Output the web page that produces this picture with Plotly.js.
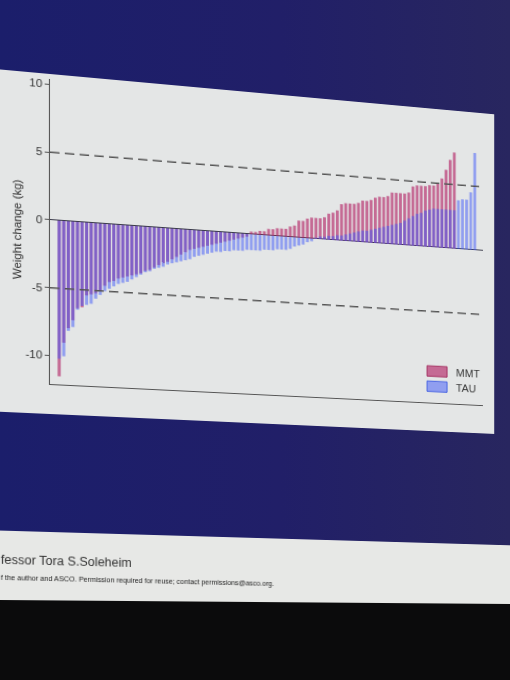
<!DOCTYPE html>
<html>
<head>
<meta charset="utf-8">
<script src="https://cdn.plot.ly/plotly-3.0.1.min.js"></script>
<style>
  html, body { margin:0; padding:0; width:510px; height:680px; overflow:hidden;
    background: linear-gradient(90deg, #1b1e6b 0%, #211f68 55%, #28265f 100%); }
  #slide { position:absolute; left:0; top:0; width:510px; height:680px; transform-origin:0 0; }
  #panel { position:absolute; left:-40px; top:74px; width:535px; height:340px; background:#e4e6e6; }
  #footer { position:absolute; left:-40px; top:532px; width:640px; height:120px; background:#e7e8e6; }
  #chart { position:absolute; left:0; top:0; width:510px; height:680px; }
  .ft { position:absolute; white-space:nowrap; font-family:"Liberation Sans", Arial, sans-serif; color:#333; }
  #presenter { left:4px; top:554px; font-size:12px; line-height:14px; }
  #copy { left:4px; top:575px; font-size:6.9px; line-height:8px; color:#222; }
  #floor { position:absolute; left:0; top:600px; width:510px; height:80px; background:#0b0b0c;
    clip-path: polygon(0 0, 100% 4px, 100% 100%, 0 100%); }
</style>
</head>
<body>
<div id="slide">
  <div id="panel"></div>
  <div id="footer"></div>
  <div id="chart"></div>
  <div class="ft" id="presenter">fessor Tora S.Soleheim</div>
  <div class="ft" id="copy">f the author and ASCO. Permission required for reuse; contact permissions@asco.org.</div>
</div>
<div id="floor"></div>
<script>
// ---- data (weight change in kg, each arm sorted ascending) ----
const seriesNames = ["MMT", "TAU"];
const mmtWeightChange = [-11.5,-9.0,-7.9,-7.3,-6.4,-6.3,-5.4,-5.3,-5.2,-5.0,
  -4.6,-4.3,-4.2,-4.0,-3.9,-3.8,-3.7,-3.6,-3.5,-3.3,
  -3.2,-3.0,-2.8,-2.6,-2.5,-2.3,-2.1,-1.9,-1.7,-1.5,
  -1.4,-1.3,-1.2,-1.1,-1.0,-0.9,-0.8,-0.7,-0.6,-0.5,
  -0.4,-0.3,-0.2,0.2,0.2,0.3,0.3,0.5,0.5,0.6,
  0.6,0.6,0.8,0.9,1.3,1.3,1.5,1.6,1.6,1.6,
  1.7,2.0,2.1,2.3,2.8,2.9,2.9,2.9,3.0,3.2,
  3.2,3.3,3.5,3.6,3.6,3.7,4.0,4.0,4.0,4.0,
  4.1,4.6,4.7,4.7,4.7,4.8,4.8,5.0,5.4,6.1,
  6.9,7.5];
const tauWeightChange = [-10.2,-10.0,-8.1,-7.8,-6.5,-6.2,-6.1,-6.0,-5.6,-5.3,
  -5.0,-4.8,-4.6,-4.4,-4.3,-4.2,-4.0,-3.8,-3.6,-3.4,
  -3.3,-3.1,-3.0,-2.9,-2.7,-2.6,-2.5,-2.4,-2.3,-2.2,
  -2.0,-1.9,-1.8,-1.7,-1.6,-1.5,-1.5,-1.4,-1.4,-1.3,
  -1.3,-1.3,-1.2,-1.2,-1.2,-1.2,-1.1,-1.1,-1.1,-1.0,
  -1.0,-1.0,-0.9,-0.7,-0.6,-0.5,-0.3,-0.2,0.1,0.2,
  0.2,0.3,0.3,0.4,0.4,0.5,0.6,0.7,0.8,0.9,
  0.9,1.0,1.1,1.2,1.3,1.4,1.5,1.6,1.7,1.9,
  2.1,2.3,2.5,2.6,2.8,2.9,3.0,3.0,3.0,3.0,
  3.0,3.0,3.8,3.9,3.9,4.5,7.6];
const yTickVals = [-10, -5, 0, 5, 10];
const yTickText = ["-10", "-5", "0", "5", "10"];
const refLevels = [5, -5];
const yTitle = "Weight change (kg)";

// patient rank within each arm
const mmtRank = mmtWeightChange.map((_, i) => i + 1);
const tauRank = tauWeightChange.map((_, i) => i + 1);

const traces = [
  { type:'bar', name:seriesNames[0], x:mmtRank, y:mmtWeightChange, legend:'legend',
    marker:{ color:'rgba(180,40,105,0.65)', line:{ color:'rgba(150,20,80,0.8)', width:0 } } },
  { type:'bar', name:seriesNames[1], x:tauRank, y:tauWeightChange, legend:'legend2',
    marker:{ color:'rgba(60,85,250,0.5)', line:{ color:'rgba(45,70,225,0.8)', width:0 } } }
];

const legendBase = { xanchor:'left', yanchor:'top', bgcolor:'rgba(0,0,0,0)',
  borderwidth:0, font:{ size:11, color:'#333' } };

const layout = {
  width:510, height:680,
  margin:{ l:50, r:27, t:79, b:296, pad:0 },
  paper_bgcolor:'rgba(0,0,0,0)', plot_bgcolor:'rgba(0,0,0,0)',
  barmode:'overlay', bargap:0.32,
  font:{ family:'"Liberation Sans", Arial, sans-serif', size:11, color:'#333' },
  xaxis:{ range:[-1, 99], showline:true, linecolor:'#555', linewidth:1,
    showticklabels:false, ticks:'', showgrid:false, zeroline:false, fixedrange:true },
  yaxis:{ range:[-12.1, 10.4], tickmode:'array', tickvals:yTickVals, ticktext:yTickText,
    ticks:'outside', ticklen:4, tickwidth:1, tickcolor:'#555',
    showline:true, linecolor:'#555', linewidth:1, showgrid:false,
    zeroline:true, zerolinecolor:'#3a3a4a', zerolinewidth:1,
    tickfont:{ size:11, color:'#333' },
    title:{ text:yTitle, font:{ size:11.5, color:'#333' }, standoff:0 },
    automargin:false, fixedrange:true },
  shapes: refLevels.map(v => ({ type:'line', xref:'paper', yref:'y', x0:0, x1:1, y0:v, y1:v,
    layer:'above', line:{ color:'#555', width:1.5, dash:'9px,5px' } })),
  showlegend:true,
  legend: Object.assign({ x:0.842, y:0.1566 }, legendBase),
  legend2: Object.assign({ x:0.842, y:0.1039 }, legendBase)
};

Plotly.newPlot('chart', traces, layout, { staticPlot:true, displayModeBar:false }).then(() => {
  // wider, flatter legend swatches as on the slide (keep Plotly's own placement)
  const strokes = ['rgba(160,40,90,0.9)', 'rgba(60,90,225,0.9)'];
  document.querySelectorAll('#chart .legendpoints').forEach((grp, i) => {
    grp.querySelectorAll('path').forEach(p => {
      p.setAttribute('d', 'M10.5,5.5H-10.5V-5.5H10.5Z');
      p.style.stroke = strokes[i] || strokes[0];
      p.style.strokeWidth = '1px';
    });
  });
});

// photo perspective of the projected slide (vertical edges stay vertical,
// horizontal lines converge to the right)
const g = 1.432e-4, alpha = 1.06186, k = 0.10691, ox = 50;
const a1 = ox * g + alpha;
const m3d = [a1, k, 0, g,  0, 1, 0, 0,  0, 0, 1, 0,  ox - ox * a1, -ox * k, 0, 1 - ox * g];
document.getElementById('slide').style.transform = 'matrix3d(' + m3d.join(',') + ')';
</script>
</body>
</html>
